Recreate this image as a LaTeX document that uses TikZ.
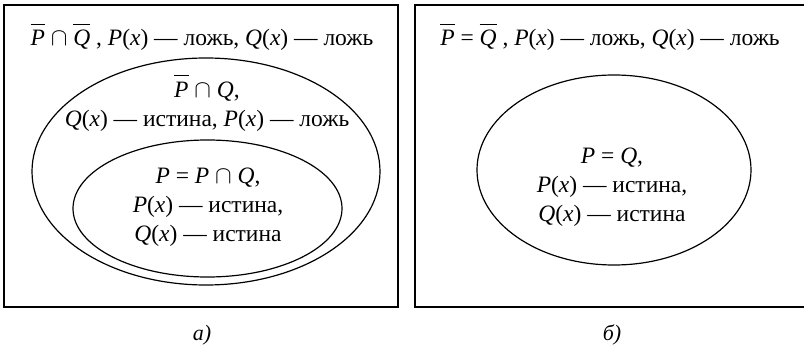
\documentclass[tikz,border=0pt]{standalone}
\usepackage{fontspec}
\setmainfont{Liberation Serif}
\newcommand{\Pv}{\textit{P}}
\newcommand{\Qv}{\textit{Q}}
\newcommand{\xv}{\textit{x}}
\newcommand{\barP}{\ensuremath{\overline{\mbox{\rule{0pt}{0.86em}\textit{P}}}}}
\newcommand{\barQ}{\ensuremath{\overline{\mbox{\rule{0pt}{0.86em}\textit{Q}}}}}
\newcommand{\capop}{\ \ensuremath{\cap}\ }
\tikzset{
  frame/.style={draw, line width=1.4pt},
  oval/.style={draw, line width=1.2pt},
  txt/.style={align=center, font=\fontsize{23.5}{29}\selectfont, inner sep=0pt},
  sublabel/.style={font=\fontsize{22}{24}\selectfont\itshape, inner sep=0pt}
}
\begin{document}
\begin{tikzpicture}[x=1pt,y=-1pt]
\useasboundingbox (0,0) rectangle (804,350);
% left panel
\draw[frame] (4,5) rectangle (398,307);
\draw[oval] (206,171.5) ellipse [x radius=174pt, y radius=113.5pt];
\draw[oval] (207.5,208.5) ellipse [x radius=134.5pt, y radius=68.5pt];
\node[txt] (ltop) at (202,37) {\barP\capop\barQ\ , \Pv(\xv) — ложь, \Qv(\xv) — ложь};
\node[txt] (lmid) at (207,103) {\barP\capop\Qv,\\ \Qv(\xv) — истина, \Pv(\xv) — ложь};
\node[txt] (lin) at (208,207) {\Pv\ = \Pv\capop\Qv,\\ \Pv(\xv) — истина,\\ \Qv(\xv) — истина};
\node[sublabel] (la) at (202,335) {а)};
% right panel
\draw[frame] (415,5) rectangle (808,307);
\draw[oval] (614,170) ellipse [x radius=137pt, y radius=95pt];
\node[txt] (rtop) at (610,37) {\barP\ = \barQ\ , \Pv(\xv) — ложь, \Qv(\xv) — ложь};
\node[txt] (rin) at (612,187) {\Pv\ = \Qv,\\ \Pv(\xv) — истина,\\ \Qv(\xv) — истина};
\node[sublabel] (rb) at (612,335) {б)};
\end{tikzpicture}
\end{document}
